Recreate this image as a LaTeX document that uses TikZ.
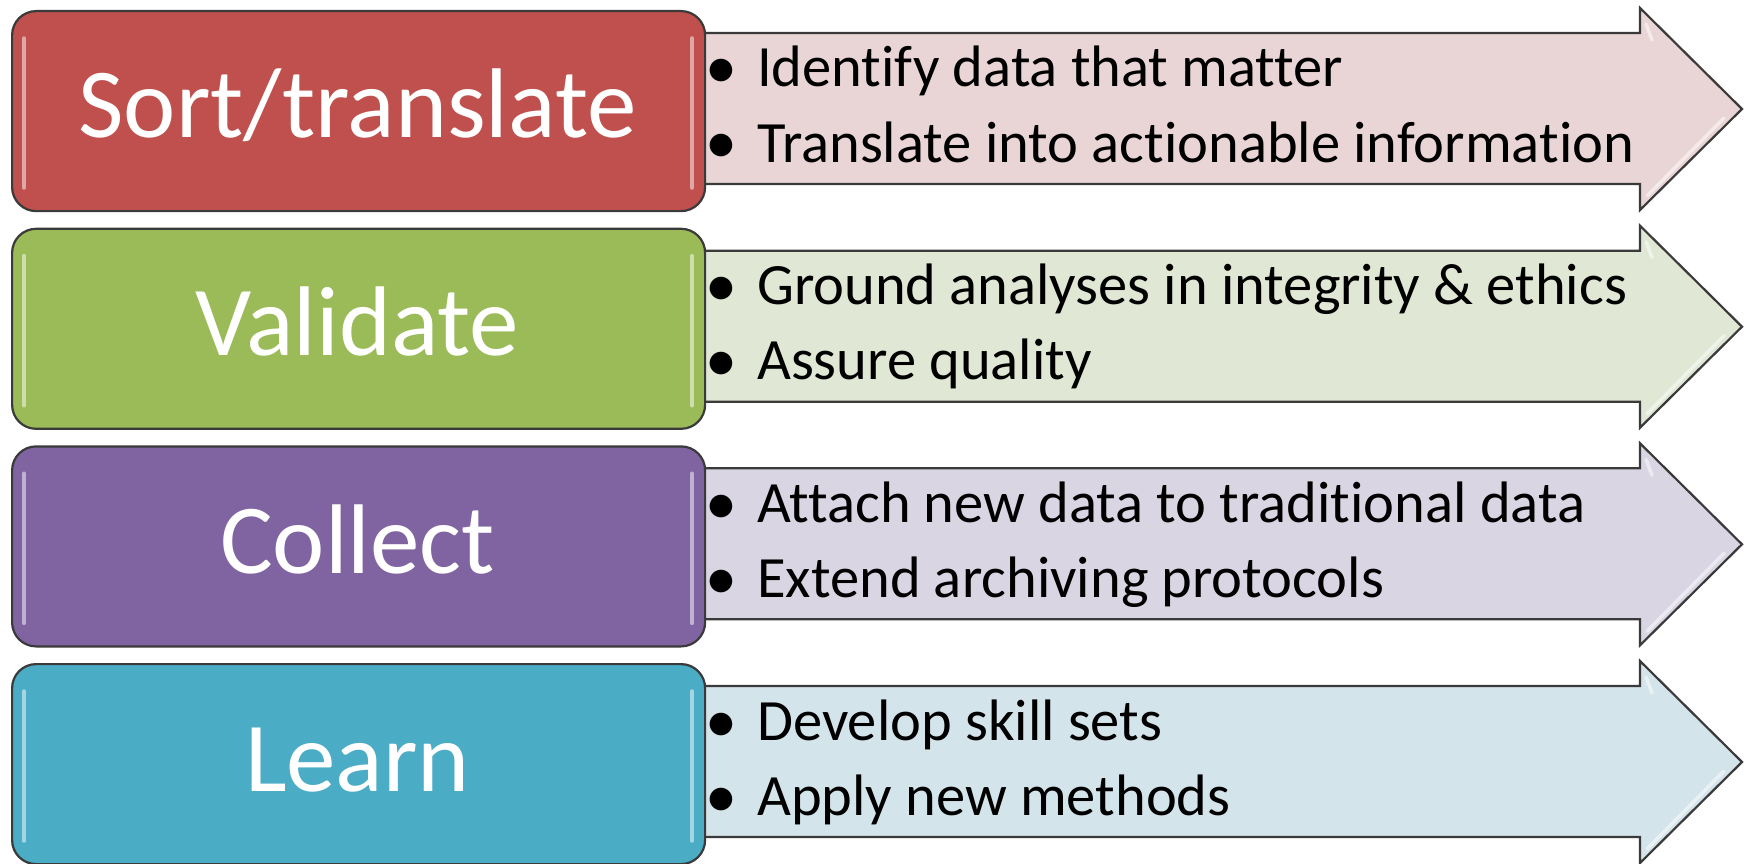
\documentclass[tikz,border=0pt]{standalone}
\usepackage{fontspec}
\usepackage{graphicx}
\setmainfont[Ligatures=NoCommon]{Carlito}
\definecolor{boxline}{HTML}{3A3A3A}
\definecolor{redbox}{HTML}{C0504D}
\definecolor{greenbox}{HTML}{9BBB59}
\definecolor{purplebox}{HTML}{8064A2}
\definecolor{bluebox}{HTML}{4BACC6}
\definecolor{redarrow}{HTML}{E9D5D5}
\definecolor{greenarrow}{HTML}{E0E7D4}
\definecolor{purplearrow}{HTML}{DAD5E3}
\definecolor{bluearrow}{HTML}{D4E4EB}
\tikzset{
  boxshape/.style={draw=boxline, line width=2.2pt, rounded corners=24pt, minimum width=693pt, minimum height=200pt, anchor=north west, inner sep=0pt},
  arrowshape/.style={draw=boxline, line width=2.2pt, line join=miter},
  titletext/.style={text=white, font=\fontsize{99}{99}\selectfont, anchor=base, inner sep=0pt},
  bullettext/.style={font=\fontsize{58.5}{58.5}\selectfont, anchor=base west, inner sep=0pt},
  bulletdot/.style={font=\fontsize{64}{64}\selectfont, anchor=base, inner sep=0pt},
  gloss/.style={white, opacity=0.5, line width=3.5pt, line cap=round},
}
\newcommand\diagrow[7]{%
  \path[arrowshape, fill=#4] (680,#1+23) -- (1640,#1+23) -- (1640,#1-2) -- (1742,#1+99) -- (1640,#1+200) -- (1640,#1+174) -- (680,#1+174) -- cycle;
  \draw[gloss] (1647,#1+186) -- (1724,#1+108);
  \draw[gloss] (1646,#1+14) -- (1652,#1+30);
  \node[boxshape, fill=#3] (#2) at (11,#1) {};
  \draw[gloss] (24,#1+28) -- (24,#1+178);
  \draw[gloss] (692,#1+28) -- (692,#1+178);
  \node[titletext] (#2title) at (357.5,#1+128) {#5};
  \node[bulletdot] (#2dota) at (721,#1+79) {•};
  \node[bullettext] (#2linea) at (757,#1+77) {#6};
  \node[bulletdot] (#2dotb) at (721,#1+154) {•};
  \node[bullettext] (#2lineb) at (757,#1+152) {#7};
}
\begin{document}
\begin{tikzpicture}[x=1pt, y=-1pt]
  \useasboundingbox (0,0) rectangle (1748,864);
  \diagrow{10}{sort}{redbox}{redarrow}{Sort/translate}{Identify data that matter}{Translate into actionable information}
  \diagrow{227.7}{validate}{greenbox}{greenarrow}{Validate}{Ground analyses in integrity \& ethics}{Assure quality}
  \diagrow{445.3}{collect}{purplebox}{purplearrow}{Collect}{Attach new data to traditional data}{Extend archiving protocols}
  \diagrow{663}{learn}{bluebox}{bluearrow}{Learn}{Develop skill sets}{Apply new methods}
\end{tikzpicture}
\end{document}
